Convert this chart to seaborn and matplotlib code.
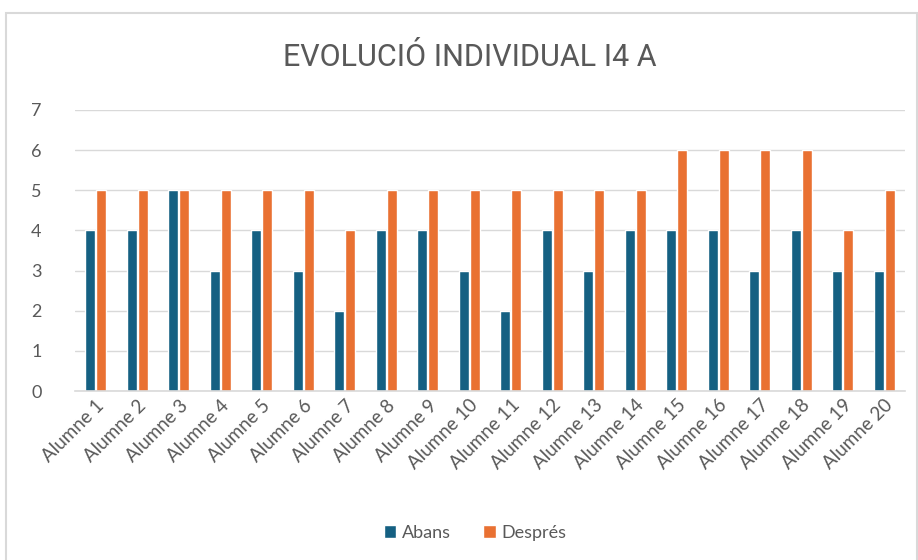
import pandas as pd
import matplotlib.pyplot as plt
import seaborn as sns
from matplotlib.patches import Rectangle

# Data
alumnes = [f"Alumne {i}" for i in range(1, 21)]
abans = [4, 4, 5, 3, 4, 3, 2, 4, 4, 3, 2, 4, 3, 4, 4, 4, 3, 4, 3, 3]
despres = [5, 5, 5, 5, 5, 5, 4, 5, 5, 5, 5, 5, 5, 5, 6, 6, 6, 6, 4, 5]
series = ["Abans", "Després"]
colors = ["#156082", "#E97132"]

df = pd.DataFrame({"alumne": alumnes, "Abans": abans, "Després": despres})
df_long = df.melt(id_vars="alumne", value_vars=series, var_name="serie", value_name="valor")

sns.set_style("white")
plt.rcParams["font.family"] = ["Lato", "DejaVu Sans"]
text_color = "#595959"

fig = plt.figure(figsize=(9.18, 5.6), dpi=100)
ax = fig.add_axes([75 / 918, 1 - 391 / 560, 830 / 918, (391 - 110) / 560])

sns.barplot(data=df_long, x="alumne", y="valor", hue="serie", hue_order=series,
            palette=colors, width=0.54, gap=0.12, ax=ax, saturation=1)

ax.set_ylim(0, 7)
ax.set_xlim(-0.5, len(alumnes) - 0.5)
ax.set_yticks(range(0, 8))
ax.yaxis.grid(True, color="#D9D9D9", linewidth=1)
ax.set_axisbelow(True)
for s in ["top", "right", "left"]:
    ax.spines[s].set_visible(False)
ax.spines["bottom"].set_color("#D9D9D9")
ax.spines["bottom"].set_linewidth(1.2)
ax.tick_params(axis="both", length=0, colors=text_color)
ax.tick_params(axis="y", labelsize=13, pad=24)
ax.tick_params(axis="x", labelsize=13.5, pad=4)
plt.setp(ax.get_xticklabels(), rotation=45, ha="right", rotation_mode="anchor")
ax.set_xlabel("")
ax.set_ylabel("")

# Legend at the bottom
handles, labels = ax.get_legend_handles_labels()
ax.legend_.remove()
fig.legend(handles, labels, loc="center", bbox_to_anchor=(475 / 918, 1 - 533 / 560),
           ncol=2, frameon=False, fontsize=13, labelcolor=text_color,
           handlelength=0.7, handleheight=0.7, handletextpad=0.3, columnspacing=1.8)

# Title
fig.text(470 / 918, 1 - 58 / 560, "EVOLUCIÓ INDIVIDUAL I4 A", ha="center", va="center",
         fontsize=22, color=text_color, family=["Roboto", "DejaVu Sans"])

# Chart frame
fig.patches.append(Rectangle((6 / 918, -0.1), 911 / 918, 1.1 - 13 / 560,
                             transform=fig.transFigure, fill=False,
                             edgecolor="#D9D9D9", linewidth=1.5))

fig.savefig("out.png", dpi=100, facecolor="white")
